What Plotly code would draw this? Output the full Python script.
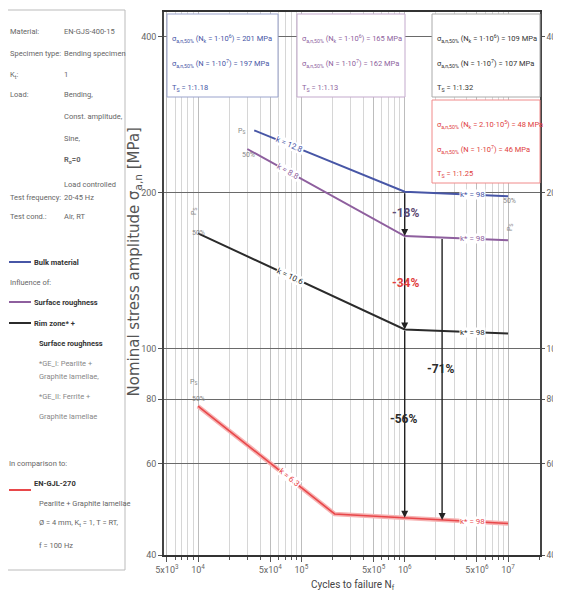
import numpy as np
import plotly.graph_objects as go

# ---------------- data ----------------
N_bulk = [3.5e4, 1e6, 1e7]
S_bulk = [264, 201, 197]
N_rough = [3.0e4, 1e6, 1e7]
S_rough = [243, 165, 162]
N_rim = [1e4, 1e6, 1e7]
S_rim = [167, 109, 107]
N_gjl = [1e4, 2.1e5, 1e7]
S_gjl = [77.5, 48, 46]

k_labels = ["k = 12.8", "k = 8.8", "k = 10.6", "k = 6.3"]
kstar_labels = ["k* = 98", "k* = 98", "k* = 98", "k* = 98"]

x_tickvals = [5e3, 1e4, 5e4, 1e5, 5e5, 1e6, 5e6, 1e7]
x_ticktext = ["5x10<sup>3</sup>", "10<sup>4</sup>", "5x10<sup>4</sup>", "10<sup>5</sup>",
              "5x10<sup>5</sup>", "10<sup>6</sup>", "5x10<sup>6</sup>", "10<sup>7</sup>"]
y_tickvals = [40, 60, 80, 100, 200, 400]
y_ticktext = ["40", "60", "80", "100", "200", "400"]

N_arrow2 = 2.3e6  # position of second arrow

C_BLUE = "#4756a6"
C_PURP = "#8e5f9e"
C_BLACK = "#2b2b2b"
C_RED = "#e8474a"
C_GRAY = "#666666"
FONT = "Roboto, sans-serif"

# page body has an 8 px margin; all screen coordinates below account for it
OFF = 8
L, R, T, B = 164, 540, 12, 555          # plot area in screen pixels
W, H = 561 - OFF, 592


def px(xp, yp):
    return (xp - L) / (R - L), (B - yp) / (B - T)


def interp(Ns, Ss, n):
    return float(np.interp(np.log10(n), np.log10(Ns), np.log10(Ss)))


fig = go.Figure()

# curves
fig.add_trace(go.Scatter(x=N_gjl, y=S_gjl, mode="lines",
                         line=dict(color="#f6b3b3", width=4.5), hoverinfo="skip", showlegend=False))
for Ns, Ss, col, w in [(N_bulk, S_bulk, C_BLUE, 2), (N_rough, S_rough, C_PURP, 2),
                       (N_rim, S_rim, C_BLACK, 2), (N_gjl, S_gjl, C_RED, 1.6)]:
    fig.add_trace(go.Scatter(x=Ns, y=Ss, mode="lines", line=dict(color=col, width=w),
                             showlegend=False))
# dummy for right axis
fig.add_trace(go.Scatter(x=[1e6], y=[100], yaxis="y2", mode="markers",
                         marker=dict(opacity=0), hoverinfo="skip", showlegend=False))

minor_vals = []
for e in range(3, 8):
    for m in range(2, 10):
        v = m * 10 ** e
        if v not in x_tickvals and 4.6e3 < v < 2.05e7:
            minor_vals.append(v)

ann = []
shapes = []

# ---- line labels ----
curves = [(N_bulk, S_bulk, C_BLUE), (N_rough, S_rough, C_PURP),
          (N_rim, S_rim, C_BLACK), (N_gjl, S_gjl, C_RED)]
k_pos = [7.6e4, 7.4e4, 7.8e4, 7.6e4]
k_ang = [23, 29, 25, 39]
for (Ns, Ss, col), lab, n, a in zip(curves, k_labels, k_pos, k_ang):
    ann.append(dict(x=np.log10(n), y=interp(Ns, Ss, n), xref="x", yref="y", text=lab,
                    showarrow=False, textangle=a, bgcolor="white", borderpad=0,
                    font=dict(size=8, color=col, family=FONT)))
for (Ns, Ss, col), lab in zip(curves, kstar_labels):
    n = 4.5e6
    ann.append(dict(x=np.log10(n), y=interp(Ns, Ss, n), xref="x", yref="y", text=lab,
                    showarrow=False, bgcolor="white", borderpad=0,
                    font=dict(size=8, color=col, family=FONT)))

# ---- arrows ----
arrow_pairs = [(1e6, S_bulk[1], S_rough[1]), (1e6, S_rough[1], S_rim[1])]
for n, s0, s1 in arrow_pairs:
    ann.append(dict(x=np.log10(n), y=np.log10(s1), ax=np.log10(n), ay=np.log10(s0),
                    xref="x", yref="y", axref="x", ayref="y", text="", showarrow=True,
                    arrowhead=2, arrowsize=1, arrowwidth=1.4, arrowcolor="#222"))
ann.append(dict(x=6, y=interp(N_gjl, S_gjl, 1e6), ax=6, ay=np.log10(S_rim[1]),
                xref="x", yref="y", axref="x", ayref="y", text="", showarrow=True,
                arrowhead=2, arrowsize=1, arrowwidth=1.4, arrowcolor="#222"))
ann.append(dict(x=np.log10(N_arrow2), y=interp(N_gjl, S_gjl, N_arrow2),
                ax=np.log10(N_arrow2), ay=interp(N_rough, S_rough, N_arrow2),
                xref="x", yref="y", axref="x", ayref="y", text="", showarrow=True,
                arrowhead=2, arrowsize=1, arrowwidth=1.4, arrowcolor="#222"))

# ---- percentages ----
for t, xp, yp, col in [("-18%", 421, 213, "#5d4a72"), ("-34%", 421, 283, "#e03c3c"),
                       ("-71%", 456, 378, C_BLACK), ("-56%", 419, 428, C_BLACK)]:
    x, y = px(xp, yp)
    ann.append(dict(x=x, y=y, xref="paper", yref="paper", text="<b>%s</b>" % t,
                    showarrow=False, font=dict(size=12, color=col, family=FONT)))

# ---- P_s / 50% small labels ----
for t, xp, yp, ang in [("P<sub>S</sub>", 236, 125, 0), ("50%", 240, 149, 0),
                       ("P<sub>S</sub>", 188, 212, -90), ("50%", 190, 233, 0),
                       ("P<sub>S</sub>", 188, 388, 0), ("50%", 190, 405, 0),
                       ("50%", 518, 201, 0), ("P<sub>S</sub>", 516, 228, -90)]:
    x, y = px(xp, yp)
    ann.append(dict(x=x, y=y, xref="paper", yref="paper", text=t, showarrow=False,
                    textangle=ang, font=dict(size=7, color="#888", family=FONT)))

# ---- top boxes ----
boxes = [
    (167, 278, 14, 97, "#9aa3cc", C_BLUE,
     ["σ<sub>a,n,50%</sub> (N<sub>k</sub> = 1·10<sup>6</sup>) = 201 MPa",
      "σ<sub>a,n,50%</sub> (N = 1·10<sup>7</sup>) = 197 MPa",
      "T<sub>S</sub> = 1:1.18"]),
    (297, 405, 14, 97, "#c3a9cc", C_PURP,
     ["σ<sub>a,n,50%</sub> (N<sub>k</sub> = 1·10<sup>6</sup>) = 165 MPa",
      "σ<sub>a,n,50%</sub> (N = 1·10<sup>7</sup>) = 162 MPa",
      "T<sub>S</sub> = 1:1.13"]),
    (432, 540, 14, 97, "#aaaaaa", "#333333",
     ["σ<sub>a,n,50%</sub> (N<sub>k</sub> = 1·10<sup>6</sup>) = 109 MPa",
      "σ<sub>a,n,50%</sub> (N = 1·10<sup>7</sup>) = 107 MPa",
      "T<sub>S</sub> = 1:1.32"]),
    (432, 540, 100, 183, "#f08a8a", "#e03c3c",
     ["σ<sub>a,n,50%</sub> (N<sub>k</sub> = 2.10·10<sup>5</sup>) = 48 MPa",
      "σ<sub>a,n,50%</sub> (N = 1·10<sup>7</sup>) = 46 MPa",
      "T<sub>S</sub> = 1:1.25"]),
]
for x0, x1, y0, y1, bc, tc, lines in boxes:
    a0, b0 = px(x0, y1)
    a1, b1 = px(x1, y0)
    shapes.append(dict(type="rect", xref="paper", yref="paper", x0=a0, x1=a1, y0=b0, y1=b1,
                       fillcolor="white", line=dict(color=bc, width=1), layer="above"))
    for i, t in enumerate(lines):
        x, y = px(x0 + 3, y0 + 17 + i * 25)
        ann.append(dict(x=x, y=y, xref="paper", yref="paper", text=t, showarrow=False,
                        xanchor="left", font=dict(size=7.5, color=tc, family=FONT)))

# ---- left panel ----
a0, b0 = px(6, 570)
a1, b1 = px(125, 10)
shapes.append(dict(type="rect", xref="paper", yref="paper", x0=a0, x1=a1, y0=b0, y1=b1,
                   fillcolor="rgba(0,0,0,0)", line=dict(color="#bbbbbb", width=1)))

info_rows = [("Material:", "EN-GJS-400-15", 25), ("Specimen type:", "Bending specimen", 47),
             ("K<sub>t</sub>:", "1", 68), ("Load:", "Bending,", 88),
             ("", "Const. amplitude,", 110), ("", "Sine,", 132),
             ("", "<b>R<sub>σ</sub>=0</b>", 153), ("", "Load controlled", 178),
             ("Test frequency:", "20-45 Hz", 197), ("Test cond.:", "Air, RT", 216)]
for lab, val, yp in info_rows:
    if lab:
        x, y = px(8, yp)
        ann.append(dict(x=x, y=y, xref="paper", yref="paper", text=lab, showarrow=False,
                        xanchor="left", font=dict(size=7.5, color=C_GRAY, family=FONT)))
    x, y = px(62, yp)
    ann.append(dict(x=x, y=y, xref="paper", yref="paper", text=val, showarrow=False,
                    xanchor="left", font=dict(size=7.5, color=C_GRAY, family=FONT)))

legend_rows = [(C_BLUE, "<b>Bulk material</b>", 262, 9, "#333"),
               (None, "Influence of:", 282, 8, C_GRAY),
               (C_PURP, "<b>Surface roughness</b>", 302, 9, "#333"),
               (C_BLACK, "<b>Rim zone* +</b>", 323, 9, "#333"),
               (None, "<b>Surface roughness</b>", 343, 37, "#333"),
               (None, "*GE_I: Pearlite +", 363, 37, "#888"),
               (None, "Graphite lamellae,", 383, 37, "#888"),
               (None, "*GE_II: Ferrite +", 403, 37, "#888"),
               (None, "Graphite lamellae", 423, 37, "#888"),
               (None, "In comparison to:", 470, 7, C_GRAY),
               (C_RED, "<b>EN-GJL-270</b>", 490, 9, "#333"),
               (None, "Pearlite + Graphite lamellae", 510, 37, C_GRAY),
               (None, "Ø = 4 mm, K<sub>t</sub> = 1, T = RT,", 530, 37, C_GRAY),
               (None, "f = 100 Hz", 552, 37, C_GRAY)]
for col, t, yp, xp, tc in legend_rows:
    if col:
        a0, b = px(9, yp)
        a1, _ = px(31, yp)
        shapes.append(dict(type="line", xref="paper", yref="paper", x0=a0, x1=a1, y0=b, y1=b,
                           line=dict(color=col, width=2)))
        xp = 32
    x, y = px(xp, yp)
    ann.append(dict(x=x, y=y, xref="paper", yref="paper", text=t, showarrow=False,
                    xanchor="left", font=dict(size=7.5, color=tc, family=FONT)))

# ---- axis titles ----
x, y = px(122, 262)
ann.append(dict(x=x, y=y, xref="paper", yref="paper",
                text="Nominal stress amplitude σ<sub>a,n</sub> [MPa]", showarrow=False,
                textangle=-90, font=dict(size=15, color="#555", family="DejaVu Sans")))
x, y = px(353, 594)
ann.append(dict(x=x, y=y, xref="paper", yref="paper", text="Cycles to failure N<sub>f</sub>",
                showarrow=False, font=dict(size=10, color="#444", family=FONT)))

fig.update_layout(
    width=W, height=H,
    margin=dict(l=L - OFF, r=W - (R - OFF), t=T - OFF, b=H - (B - OFF), autoexpand=False),
    paper_bgcolor="white", plot_bgcolor="white", showlegend=False,
    font=dict(family=FONT, size=9, color=C_GRAY),
    xaxis=dict(type="log", range=[3.671, 7.309], tickvals=x_tickvals, ticktext=x_ticktext,
               showgrid=True, gridcolor="#bdbdbd", gridwidth=1,
               minor=dict(tickvals=minor_vals, showgrid=True, gridcolor="#d6d6d6",
                          ticks="outside", ticklen=3, tickcolor="#555"),
               ticks="outside", ticklen=5, tickcolor="#555",
               showline=True, linecolor="#333", linewidth=2, mirror=True,
               tickfont=dict(size=9, color=C_GRAY), zeroline=False, automargin=False),
    yaxis=dict(type="log", range=[np.log10(40), 2.650], tickvals=y_tickvals,
               ticktext=y_ticktext, showgrid=True, gridcolor="#6a6a6a", gridwidth=1,
               ticks="outside", ticklen=4, tickcolor="#555",
               showline=True, linecolor="#444", linewidth=1.5,
               tickfont=dict(size=9, color=C_GRAY), zeroline=False, automargin=False),
    yaxis2=dict(type="log", range=[np.log10(40), 2.650], tickvals=y_tickvals,
                ticktext=y_ticktext, overlaying="y", side="right", showgrid=False,
                ticks="outside", ticklen=3, tickcolor="#555",
                showline=True, linecolor="#444", linewidth=1.5,
                tickfont=dict(size=8.5, color=C_GRAY), zeroline=False, automargin=False),
    annotations=ann, shapes=shapes,
)

fig.write_html("out.html")
